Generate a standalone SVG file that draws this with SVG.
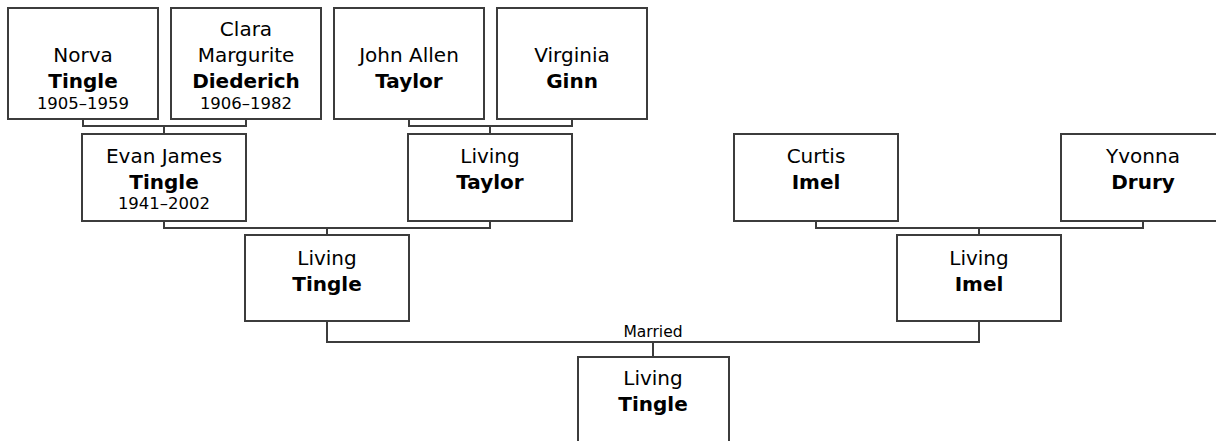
<svg xmlns="http://www.w3.org/2000/svg" width="1216" height="441" viewBox="0 0 1216 441">
<style>
.box{fill:#fff;stroke:#3c3c3c;stroke-width:2}
.conn{fill:none;stroke:#3c3c3c;stroke-width:2}
text{font-family:"DejaVu Sans",Verdana,sans-serif;fill:#000;text-anchor:middle}
.n{font-size:20px}
.s{font-size:20px;font-weight:bold}
.d{font-size:16.5px}
.m{font-size:15.5px}
</style>
<rect width="1216" height="441" fill="#fff"/>
<g id="connectors">
<path class="conn" d="M83 119 V126 H246 V119 M164 126 V134"/>
<path class="conn" d="M409 119 V126 H572 V119 M490 126 V134"/>
<path class="conn" d="M164 221 V228 H490 V221 M327 228 V235"/>
<path class="conn" d="M816 221 V228 H1143 V221 M979 228 V235"/>
<path class="conn" d="M327 321 V342 H979 V321 M653 342 V357"/>
<text class="m" x="653" y="337">Married</text>
</g>
<g id="norva">
<rect class="box" x="8" y="8" width="150" height="111"/>
<text class="n" x="83" y="62">Norva</text>
<text class="s" x="83" y="87.5">Tingle</text>
<text class="d" x="83" y="109">1905–1959</text>
</g>
<g id="clara">
<rect class="box" x="171" y="8" width="150" height="111"/>
<text class="n" x="246" y="36">Clara</text>
<text class="n" x="246" y="62">Margurite</text>
<text class="s" x="246" y="87.5">Diederich</text>
<text class="d" x="246" y="109">1906–1982</text>
</g>
<g id="john">
<rect class="box" x="334" y="8" width="150" height="111"/>
<text class="n" x="409" y="62">John Allen</text>
<text class="s" x="409" y="87.5">Taylor</text>
</g>
<g id="virginia">
<rect class="box" x="497" y="8" width="150" height="111"/>
<text class="n" x="572" y="62">Virginia</text>
<text class="s" x="572" y="87.5">Ginn</text>
</g>
<g id="evan">
<rect class="box" x="82" y="134" width="164" height="87"/>
<text class="n" x="164" y="162.5">Evan James</text>
<text class="s" x="164" y="188.5">Tingle</text>
<text class="d" x="164" y="209">1941–2002</text>
</g>
<g id="living-taylor">
<rect class="box" x="408" y="134" width="164" height="87"/>
<text class="n" x="490" y="162.5">Living</text>
<text class="s" x="490" y="188.5">Taylor</text>
</g>
<g id="curtis">
<rect class="box" x="734" y="134" width="164" height="87"/>
<text class="n" x="816" y="162.5">Curtis</text>
<text class="s" x="816" y="188.5">Imel</text>
</g>
<g id="yvonna">
<rect class="box" x="1061" y="134" width="164" height="87"/>
<text class="n" x="1143" y="162.5">Yvonna</text>
<text class="s" x="1143" y="188.5">Drury</text>
</g>
<g id="living-tingle">
<rect class="box" x="245" y="235" width="164" height="86"/>
<text class="n" x="327" y="264.5">Living</text>
<text class="s" x="327" y="290.5">Tingle</text>
</g>
<g id="living-imel">
<rect class="box" x="897" y="235" width="164" height="86"/>
<text class="n" x="979" y="264.5">Living</text>
<text class="s" x="979" y="290.5">Imel</text>
</g>
<g id="living-tingle-child">
<rect class="box" x="578" y="357" width="151" height="100"/>
<text class="n" x="653" y="385">Living</text>
<text class="s" x="653" y="411">Tingle</text>
</g>
</svg>
